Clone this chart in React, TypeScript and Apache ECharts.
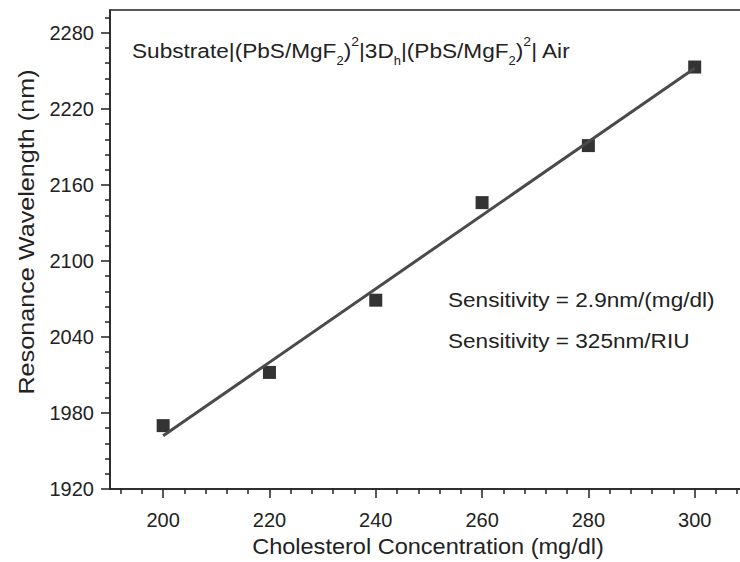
import React, { useEffect, useRef } from 'react';
import * as echarts from 'echarts';

const concentration = [200, 220, 240, 260, 280, 300];
const wavelength = [1970, 2012, 2069, 2146, 2191, 2253];
const fitX = [200, 300];
const fitY = [1962, 2252];
const xTicks = [200, 220, 240, 260, 280, 300];
const yTicks = [1920, 1980, 2040, 2100, 2160, 2220, 2280];

const xMin = 190;
const xMax = 308.9;
const yMin = 1920;
const yMax = 2298;

const xMinor: number[] = [];
for (let v = 192; v <= 308; v += 4) if (v % 20 !== 0) xMinor.push(v);
const yMinor: number[] = [];
for (let v = 1932; v <= 2296; v += 12) if ((v - 1920) % 60 !== 0) yMinor.push(v);

const FONT = '"Liberation Sans", Arial, sans-serif';
const INK = '#222';

export default function App() {
  const ref = useRef<HTMLDivElement>(null);
  useEffect(() => {
    document.body.style.margin = '0';
    const chart = echarts.init(ref.current!, null, { renderer: 'svg' });
    const axisLine = { show: true, lineStyle: { color: INK, width: 1.5 } };
    chart.setOption({
      animation: false,
      backgroundColor: '#fff',
      grid: {
        left: 110, right: -2, top: 10, bottom: 73,
        show: true, borderColor: INK, borderWidth: 1.5,
        outerBoundsMode: 'none',
      },
      xAxis: [
        {
          type: 'value', min: xMin, max: xMax, position: 'bottom',
          axisLine,
          axisTick: { show: true, length: 9, customValues: xTicks, lineStyle: { color: INK, width: 1.5 } },
          axisLabel: { customValues: xTicks, margin: 21, fontSize: 20, fontFamily: FONT, color: INK, formatter: (v: number) => String(v) },
          splitLine: { show: false },
        },
        {
          type: 'value', min: xMin, max: xMax, position: 'bottom',
          axisLine: { show: false },
          axisTick: { show: true, length: 5, customValues: xMinor, lineStyle: { color: INK, width: 1.5 } },
          axisLabel: { show: false },
          splitLine: { show: false },
        },
      ],
      yAxis: [
        {
          type: 'value', min: yMin, max: yMax, position: 'left',
          axisLine,
          axisTick: { show: true, length: 9, customValues: yTicks, lineStyle: { color: INK, width: 1.5 } },
          axisLabel: { customValues: yTicks, margin: 16, fontSize: 20, fontFamily: FONT, color: INK, formatter: (v: number) => String(v) },
          splitLine: { show: false },
        },
        {
          type: 'value', min: yMin, max: yMax, position: 'left',
          axisLine: { show: false },
          axisTick: { show: true, length: 5, customValues: yMinor, lineStyle: { color: INK, width: 1.5 } },
          axisLabel: { show: false },
          splitLine: { show: false },
        },
      ],
      series: [
        {
          type: 'scatter', xAxisIndex: 0, yAxisIndex: 0,
          symbol: 'rect', symbolSize: 13,
          itemStyle: { color: '#000' },
          data: concentration.map((x, i) => [x, wavelength[i]]),
          z: 2,
        },
        {
          type: 'line', xAxisIndex: 0, yAxisIndex: 0,
          showSymbol: false, symbol: 'none',
          lineStyle: { color: '#4a4a4a', width: 3 },
          data: fitX.map((x, i) => [x, fitY[i]]),
          z: 3,
        },
      ],
      graphic: [
        {
          type: 'text', x: 132, y: 51, scaleX: 1.077,
          style: {
            text: 'Substrate|(PbS/MgF{sb|2}){sp|2}|3D{sb|h}|(PbS/MgF{sb|2}){sp|2}| Air',
            fontSize: 21, fontFamily: FONT, fill: INK,
            align: 'left', verticalAlign: 'middle',
            rich: {
              sb: { fontSize: 12, fontFamily: FONT, fill: INK, verticalAlign: 'bottom', lineHeight: 14 },
              sp: { fontSize: 13, fontFamily: FONT, fill: INK, verticalAlign: 'top', lineHeight: 20 },
            },
            lineHeight: 32,
          },
        },
        {
          type: 'text', x: 448, y: 300, scaleX: 1.075,
          style: { text: 'Sensitivity = 2.9nm/(mg/dl)', fontSize: 21, fontFamily: FONT, fill: INK, align: 'left', verticalAlign: 'middle' },
        },
        {
          type: 'text', x: 448, y: 341, scaleX: 1.075,
          style: { text: 'Sensitivity = 325nm/RIU', fontSize: 21, fontFamily: FONT, fill: INK, align: 'left', verticalAlign: 'middle' },
        },
        {
          type: 'text', x: 428, y: 546, scaleX: 1.07,
          style: { text: 'Cholesterol Concentration (mg/dl)', fontSize: 22, fontFamily: FONT, fill: INK, align: 'center', verticalAlign: 'middle' },
        },
        {
          type: 'text', x: 26, y: 232, rotation: Math.PI / 2, scaleX: 1.12,
          style: { text: 'Resonance Wavelength (nm)', fontSize: 22.5, fontFamily: FONT, fill: INK, align: 'center', verticalAlign: 'middle' },
        },
      ],
    });
    return () => chart.dispose();
  }, []);
  return <div ref={ref} style={{ width: 740, height: 562 }} />;
}
